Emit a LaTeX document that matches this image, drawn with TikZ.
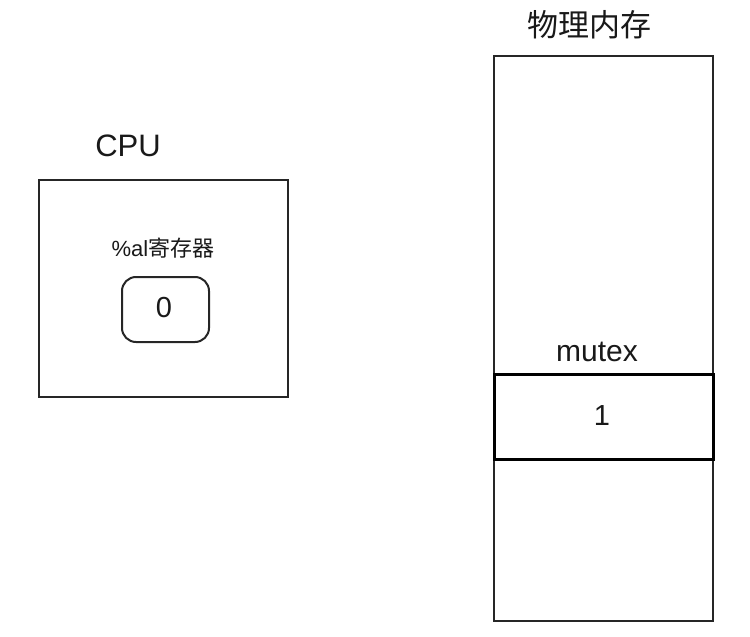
\documentclass[tikz,border=0pt]{standalone}
\usepackage{fontspec}
\setmainfont{Liberation Sans}
\newfontfamily\cjk{Noto Sans CJK SC}
\begin{document}
\begin{tikzpicture}[x=1pt,y=-1pt,
  box/.style={draw=black!85,line width=2pt},
  lbl/.style={inner sep=0pt,anchor=center,text=black!90}]
\useasboundingbox (0,0) rectangle (750,637);
% CPU
\node[lbl,font=\fontsize{31}{34}\selectfont] (cpulbl) at (128,146) {CPU};
\node[box,rectangle,minimum width=249pt,minimum height=217pt,anchor=north west,inner sep=0pt] (cpu) at (38,179) {};
\node[lbl,font=\fontsize{22}{25}\selectfont] (reglbl) at (163,248) {\%al{\cjk 寄存器}};
\node[box,rounded corners=14pt,minimum width=87pt,minimum height=65pt,anchor=north west,inner sep=0pt] (reg) at (121,276) {};
\node[lbl,font=\fontsize{29}{32}\selectfont] (regval) at (164,308) {0};
% memory
\node[lbl,font=\fontsize{31}{34}\selectfont\cjk] (memlbl) at (589,25) {物理内存};
\node[box,rectangle,minimum width=219pt,minimum height=565pt,anchor=north west,inner sep=0pt] (mem) at (493,55) {};
\node[lbl,font=\fontsize{30}{33}\selectfont] (mutexlbl) at (597,352) {mutex};
\node[rectangle,draw=black,line width=2.6pt,minimum width=219pt,minimum height=85pt,anchor=north west,inner sep=0pt] (mutex) at (493,373) {};
\node[lbl,font=\fontsize{29}{32}\selectfont] (mutexval) at (602,416) {1};
\end{tikzpicture}
\end{document}
